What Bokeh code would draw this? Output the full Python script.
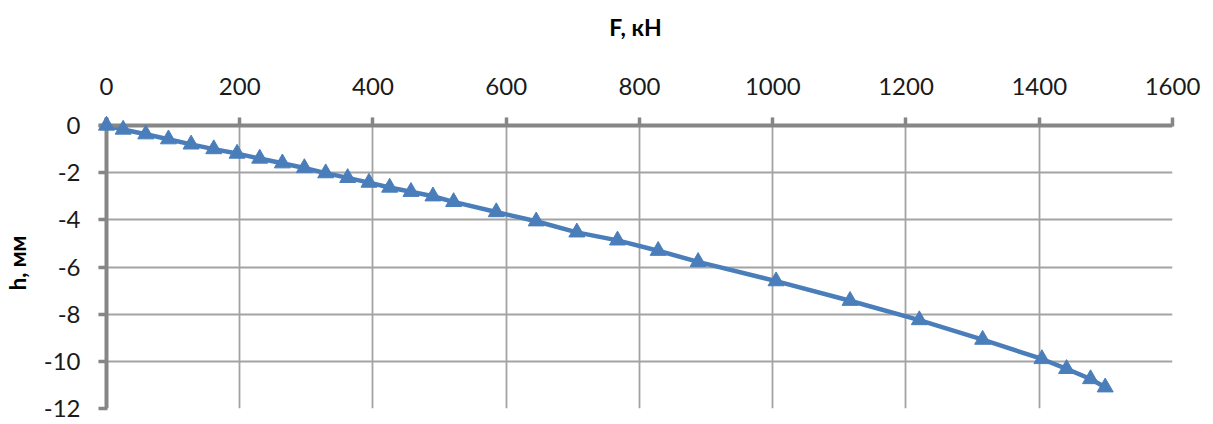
from bokeh.plotting import figure
from bokeh.models import Range1d, FixedTicker, Span
from bokeh.embed import file_html
from bokeh.resources import INLINE

# Data
F_kN = [0, 25, 59, 93, 127, 161, 196, 230, 264, 297, 329, 362, 394, 425, 457,
        490, 521, 585, 645, 706, 767, 828, 888, 1005, 1116, 1220, 1315, 1404,
        1441, 1477, 1499]
h_mm = [0, -0.17, -0.37, -0.58, -0.8, -1.0, -1.19, -1.4, -1.6, -1.8, -2.02,
        -2.22, -2.42, -2.63, -2.81, -3.0, -3.24, -3.67, -4.06, -4.53, -4.87,
        -5.31, -5.78, -6.6, -7.43, -8.25, -9.08, -9.9, -10.32, -10.75, -11.1]

x_ticks = [0, 200, 400, 600, 800, 1000, 1200, 1400, 1600]
x_tick_labels = ["0", "200", "400", "600", "800", "1000", "1200", "1400", "1600"]
y_ticks = [0, -2, -4, -6, -8, -10, -12]
y_tick_labels = ["0", "-2", "-4", "-6", "-8", "-10", "-12"]
x_title = "F, кН"
y_title = "h, мм"

FONT = "Lato"
BLUE = "#4A7EBB"
AXIS = "#868686"
GRID = "#A3A3A3"

x_pad = 12      # 8 px room so that the first marker is not clipped
y_pad = 0.34

p = figure(width=1205, height=424, output_backend="svg", toolbar_location=None,
           x_axis_location="above", y_axis_location="left",
           x_range=Range1d(x_ticks[0] - x_pad, x_ticks[-1]),
           y_range=Range1d(y_ticks[-1], y_ticks[0] + y_pad),
           min_border_left=97, min_border_right=33, min_border_top=117,
           min_border_bottom=16)
p.outline_line_color = None
p.background_fill_color = "white"
p.border_fill_color = "white"

xa = p.xaxis[0]
ya = p.yaxis[0]
xa.ticker = FixedTicker(ticks=x_ticks)
ya.ticker = FixedTicker(ticks=y_ticks)
xa.major_label_overrides = {t: l for t, l in zip(x_ticks, x_tick_labels)}
ya.major_label_overrides = {t: l for t, l in zip(y_ticks, y_tick_labels)}
for ax in (xa, ya):
    ax.axis_line_color = None
    ax.major_tick_line_color = AXIS
    ax.major_tick_line_width = 3.5
    ax.major_tick_out = 0
    ax.major_tick_in = 9
    ax.minor_tick_line_color = None
    ax.major_label_text_font = FONT
    ax.major_label_text_font_size = "24px"
    ax.major_label_text_color = "#1a1a1a"
    ax.axis_label_text_font = FONT
    ax.axis_label_text_font_style = "bold"
    ax.axis_label_text_color = "#000000"
xa.major_label_standoff = 23
ya.major_label_standoff = 18

xa.axis_label = x_title
xa.axis_label_text_font_size = "23px"
xa.axis_label_standoff = 34

ya.axis_label = y_title
ya.axis_label_text_font_size = "22px"
ya.axis_label_text_line_height = 0.8
ya.axis_label_standoff = 10

p.xgrid.ticker = FixedTicker(ticks=x_ticks)
p.ygrid.ticker = FixedTicker(ticks=y_ticks)
for g in (p.xgrid[0], p.ygrid[0]):
    g.grid_line_color = GRID
    g.grid_line_width = 1.8

# axis lines through the origin
p.add_layout(Span(location=y_ticks[0], dimension="width", line_color=AXIS, line_width=4))
p.add_layout(Span(location=x_ticks[0], dimension="height", line_color=AXIS, line_width=4))

p.line(F_kN, h_mm, line_color=BLUE, line_width=4.5)
p.scatter(F_kN, h_mm, marker="triangle", size=16, fill_color=BLUE,
          line_color=BLUE, level="overlay")

open("out.html", "w").write(file_html(p, INLINE))
